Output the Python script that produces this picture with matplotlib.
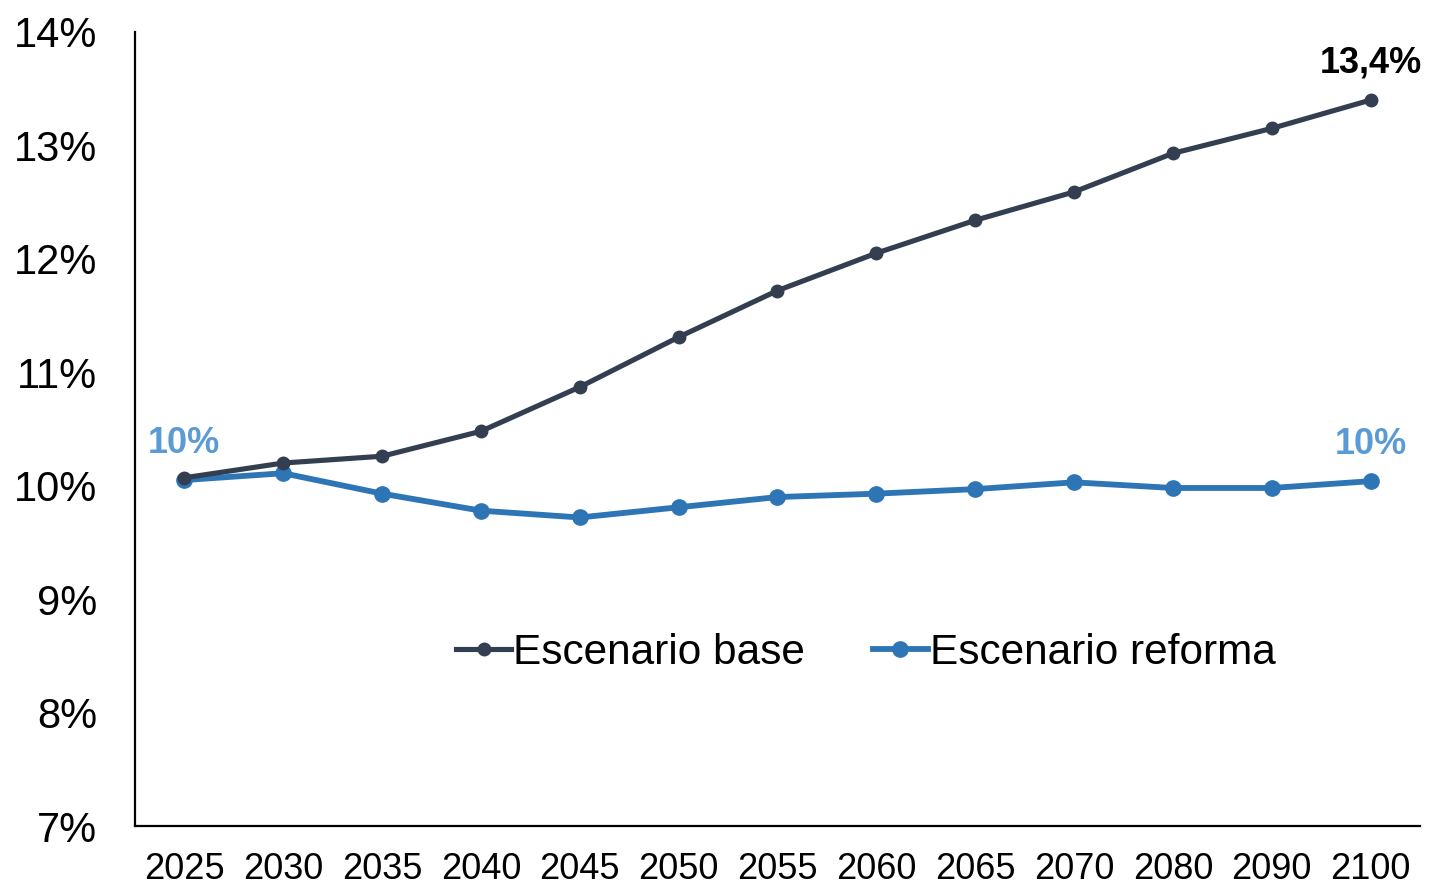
import numpy as np
import matplotlib.pyplot as plt

plt.rcParams['font.family'] = ['Liberation Sans', 'DejaVu Sans']

# Años (eje categórico)
years = ['2025', '2030', '2035', '2040', '2045', '2050', '2055',
         '2060', '2065', '2070', '2080', '2090', '2100']

# Valores en %
base = [10.07, 10.20, 10.26, 10.48, 10.87, 11.31, 11.72,
        12.05, 12.34, 12.59, 12.93, 13.15, 13.40]
reforma = [10.05, 10.11, 9.93, 9.78, 9.72, 9.81, 9.90,
           9.93, 9.97, 10.03, 9.98, 9.98, 10.04]

col_base = '#333F50'
col_ref = '#2E75B6'
col_lbl = '#5B9BD5'

fig = plt.figure(figsize=(14.31, 8.86), dpi=100)
ax = fig.add_axes([0.0943, 0.0677, 0.8980, 0.8962])

x = np.arange(len(years))
ax.plot(x, base, color=col_base, lw=3.7, marker='o', ms=9, label='Escenario base', zorder=3)
ax.plot(x, reforma, color=col_ref, lw=4.2, marker='o', ms=11, label='Escenario reforma', zorder=2)

ax.set_xlim(-0.5, len(years) - 0.5)
ax.set_ylim(7, 14)
ax.set_xticks(x)
ax.set_xticklabels(years, fontsize=26)
ax.set_yticks(np.arange(7, 15))
ax.set_yticklabels([f'{v}%' for v in range(7, 15)], fontsize=30)
ax.tick_params(axis='y', length=0, pad=27)
ax.tick_params(axis='x', length=0, pad=19)

for s in ['top', 'right']:
    ax.spines[s].set_visible(False)
for s in ['left', 'bottom']:
    ax.spines[s].set_linewidth(1.6)

# Etiquetas
ax.text(x[-1], base[-1] + 0.17, '13,4%', ha='center', va='bottom',
        fontsize=26, fontweight='bold', color='black')
ax.text(x[0], reforma[0] + 0.17, '10%', ha='center', va='bottom',
        fontsize=26, fontweight='bold', color=col_lbl)
ax.text(x[-1], reforma[-1] + 0.17, '10%', ha='center', va='bottom',
        fontsize=26, fontweight='bold', color=col_lbl)

ax.legend(loc='center', bbox_to_anchor=(866 / 1431, 1 - 653 / 886),
          bbox_transform=fig.transFigure, ncol=2, frameon=False,
          fontsize=30.5, handlelength=1.3, handletextpad=0.05, columnspacing=1.6)

fig.savefig('out.png', dpi=100)
